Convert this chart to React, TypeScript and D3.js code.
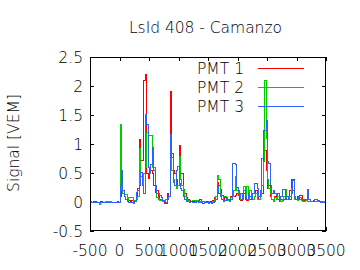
import React from "react";
import * as d3 from "d3";

const title = "LsId 408 - Camanzo";
const yLabel = "Signal [VEM]";
const binStart = -500;
const binWidth = 25;
const xTicks = [-500, 0, 500, 1000, 1500, 2000, 2500, 3000, 3500];
const yTicks = [-0.5, 0, 0.5, 1, 1.5, 2, 2.5];
const seriesNames = ["PMT 1", "PMT 2", "PMT 3"];
const seriesColors = ["#ff0000", "#00cc00", "#3060ff"];

const pmt1 = [
  0, 0, 0.01, 0.01, 0, 0, 0, 0.01, 0, 0,
  0, 0, 0.01, 0, 0, 0, 0, 0, 0.01, 0,
  0.1, 0.46, 0.2, 0.1, 0.05, 0.02, 0.03, 0.02, 0.03, 0.02,
  0.03, 0.08, 0.25, 1.08, 0.73, 0.73, 2.1, 2.2, 0.5, 0.42,
  0.6, 0.55, 0.5, 0.3, 0.18, 0.2, 0.1, 0.05, 0.03, 0.02,
  -0.02, -0.02, 0.15, 0.1, 1.91, 0.85, 0.55, 0.5, 0.4, 0.3,
  0.98, 0.5, 0.5, 0.22, 0.15, 0.08, 0.06, 0.03, 0.02, 0.02,
  0.01, 0.02, 0.02, 0.03, 0.05, 0.02, 0.01, 0.01, 0.01, 0.0,
  0.0, 0.01, 0.02, 0.03, 0.08, 0.1, 0.35, 0.3, 0.23, 0.12,
  0.05, 0.08, 0.03, 0.05, 0.02, 0.1, 0.15, 0.1, 0.12, 0.15,
  0.12, 0.05, 0.03, 0.08, 0.15, 0.05, 0.03, 0.1, 0.05, 0.15,
  0.05, 0.1, 0.2, 0.1, 0.05, 0.1, 0.15, 0.75, 0.9, 0.55,
  0.25, 0.3, 0.1, 0.05, 0.02, 0.1, 0.15, 0.05, 0.02, 0.05,
  0.03, 0.05, 0.1, 0.05, 0.1, 0.2, 0.4, 0.4, 0.1, 0.05,
  0.1, 0.05, 0.12, 0.12, 0.03, 0.02, 0.03, 0.02, 0.02, 0.02,
  0.02, 0.03, 0.02, 0.02, 0.02, 0.01, 0.0, 0.0, 0.0, 0.15,
];

const pmt2 = [
  0, 0, 0, 0, 0, 0, -0.03, 0, 0, 0,
  0.01, 0.01, 0.01, 0.01, 0, 0, 0, 0, 0, 0,
  1.34, 0.2, 0.15, 0.14, 0.14, 0.02, 0.08, 0.08, 0.08, 0.02,
  0.03, 0.05, 0.1, 0.93, 0.45, 0.3, 0.5, 0.6, 1.2, 1.15,
  1.15, 1.15, 0.6, 0.6, 0.25, 0.08, 0.05, 0.03, 0.05, 0.02,
  0.03, 0.05, 0.05, 0.1, 0.78, 0.55, 0.4, 0.3, 0.25, 0.3,
  0.8, 0.4, 0.3, 0.2, 0.1, 0.05, 0.03, 0.02, 0.02, 0.03,
  0.03, 0.02, 0.03, 0.01, 0.02, 0.01, 0.02, 0.01, 0.0, 0.0,
  0.01, 0.0, 0.0, 0.02, 0.05, 0.1, 0.47, 0.4, 0.15, 0.05,
  0.1, 0.1, 0.08, 0.03, 0.02, 0.08, 0.1, 0.2, 0.45, 0.2,
  0.15, 0.1, 0.05, 0.1, 0.28, 0.1, 0.28, 0.05, 0.2, 0.1,
  0.05, 0.1, 0.15, 0.05, 0.05, 0.1, 0.3, 0.7, 2.1, 1.1,
  0.4, 0.25, 0.15, 0.05, 0.02, 0.08, 0.05, 0.1, 0.05, 0.02,
  0.05, 0.1, 0.22, 0.05, 0.05, 0.1, 0.25, 0.2, 0.05, 0.05,
  0.03, 0.05, 0.08, 0.03, 0.02, 0.02, 0.03, 0.02, 0.02, 0.02,
  0.01, 0.01, 0.01, 0.01, 0.01, 0.01, 0.01, 0.01, 0.01, 0.01,
];

const pmt3 = [
  0.01, 0, 0, 0, 0, 0, 0, 0, 0, 0,
  0, 0, 0, 0, 0, 0, 0, 0, 0, 0,
  0.3, 0.55, 0.2, 0.1, 0.05, 0.02, 0.0, 0.0, 0.0, -0.01,
  0.02, 0.18, 0.2, 0.3, 0.52, 0.3, 0.15, 1.52, 1.34, 0.6,
  0.5, 0.65, 0.95, 0.55, 0.3, 0.15, 0.15, 0.12, 0.08, 0.03,
  0.02, 0.0, 0.05, 0.1, 1.18, 0.77, 0.35, 0.3, 0.55, 0.62,
  0.32, 0.25, 0.2, 0.1, 0.05, 0.02, 0.01, 0.0, 0.01, 0.0,
  0, 0, 0.01, 0.0, 0.0, 0.0, -0.01, 0.0, 0.0, 0.0,
  -0.01, 0.0, -0.01, 0.0, 0.02, 0.05, 0.28, 0.15, 0.1, 0.05,
  0.02, 0.03, 0.08, 0.05, 0.02, 0.05, 0.68, 0.68, 0.66, 0.26,
  0.2, 0.1, 0.15, 0.05, 0.2, 0.1, 0.05, 0.15, 0.1, 0.05,
  0.15, 0.32, 0.32, 0.25, 0.1, 0.2, 0.75, 1.25, 1.25, 1.42,
  0.7, 0.68, 0.3, 0.15, 0.2, 0.15, 0.12, 0.15, 0.05, 0.1,
  0.22, 0.22, 0.05, 0.1, 0.05, 0.05, 0.15, 0.38, 0.1, 0.05,
  0.05, 0.1, 0.05, 0.05, 0.05, 0.05, 0.05, 0.22, 0.05, 0.02,
  0.02, 0.02, 0.05, 0.05, 0.03, 0.02, 0.0, 0.0, 0.0, 0.0,
];

const series = [pmt1, pmt2, pmt3];

const W = 360;
const H = 270;
const m = { left: 90, right: 326, top: 57, bottom: 231 };
const font = "'DejaVu Sans', sans-serif";
const fw = 200;

export default function App() {
  const x = d3.scaleLinear().domain([-500, 3500]).range([m.left, m.right]);
  const y = d3.scaleLinear().domain([-0.5, 2.5]).range([m.bottom, m.top]);
  const line = d3
    .line<[number, number]>()
    .x((d) => Math.round(x(d[0])) + 0.5)
    .y((d) => Math.round(y(d[1])) + 0.5)
    .curve(d3.curveStepAfter);

  const paths = series.map((vals) => {
    const pts: [number, number][] = vals.map((v, i) => [binStart + i * binWidth, v]);
    pts.push([binStart + vals.length * binWidth, vals[vals.length - 1]]);
    return line(pts) || "";
  });

  const tickLen = 4;
  const legendY = [68, 87, 106];

  return (
    <svg width={W} height={H} style={{ position: "absolute", left: 0, top: 0, background: "#fff" }}>
      <defs>
        <clipPath id="plotclip">
          <rect x={m.left} y={m.top} width={m.right - m.left} height={m.bottom - m.top} />
        </clipPath>
      </defs>
      <rect width={W} height={H} fill="#fff" />
      <text
        x={129}
        y={33}
        textLength={153}
        lengthAdjust="spacing"
        fontFamily={font}
        fontWeight={fw}
        fontSize={15.5}
        fill="#000"
      >
        {title}
      </text>
      <text
        transform={`translate(19,${(m.top + m.bottom) / 2 - 1}) rotate(-90)`}
        textAnchor="middle"
        fontFamily={font}
        fontWeight={fw}
        fontSize={15.5}
        fill="#000"
      >
        {yLabel}
      </text>
      {yTicks.map((t) => (
        <g key={"y" + t}>
          <line x1={m.left} x2={m.left + tickLen} y1={Math.round(y(t)) + 0.5} y2={Math.round(y(t)) + 0.5} stroke="#000" />
          <line x1={m.right} x2={m.right - tickLen} y1={Math.round(y(t)) + 0.5} y2={Math.round(y(t)) + 0.5} stroke="#000" />
          <text x={m.left - 7} y={y(t) + 5.5} textAnchor="end" fontFamily={font} fontWeight={fw} fontSize={15.5} fill="#000">
            {String(t)}
          </text>
        </g>
      ))}
      {xTicks.map((t) => (
        <g key={"x" + t}>
          <line x1={Math.round(x(t)) + 0.5} x2={Math.round(x(t)) + 0.5} y1={m.bottom} y2={m.bottom - tickLen} stroke="#000" />
          <line x1={Math.round(x(t)) + 0.5} x2={Math.round(x(t)) + 0.5} y1={m.top} y2={m.top + tickLen} stroke="#000" />
          <text x={x(t)} y={256} textAnchor="middle" fontFamily={font} fontWeight={fw} fontSize={15.5} fill="#000">
            {String(t)}
          </text>
        </g>
      ))}
      <g clipPath="url(#plotclip)">
        {paths.map((d, i) => (
          <path key={i} d={d} fill="none" stroke={seriesColors[i]} strokeWidth={1} shapeRendering="crispEdges" />
        ))}
      </g>
      {seriesNames.map((n, i) => (
        <g key={n}>
          <text x={244} y={legendY[i] + 5.5} textAnchor="end" fontFamily={font} fontWeight={fw} fontSize={15.5} fill="#000">
            {n}
          </text>
          <line x1={258} x2={304} y1={legendY[i] + 0.5} y2={legendY[i] + 0.5} stroke={seriesColors[i]} strokeWidth={1} />
        </g>
      ))}
      <rect
        x={m.left + 0.5}
        y={m.top + 0.5}
        width={m.right - m.left - 1}
        height={m.bottom - m.top - 1}
        fill="none"
        stroke="#000"
        strokeWidth={1}
      />
    </svg>
  );
}
